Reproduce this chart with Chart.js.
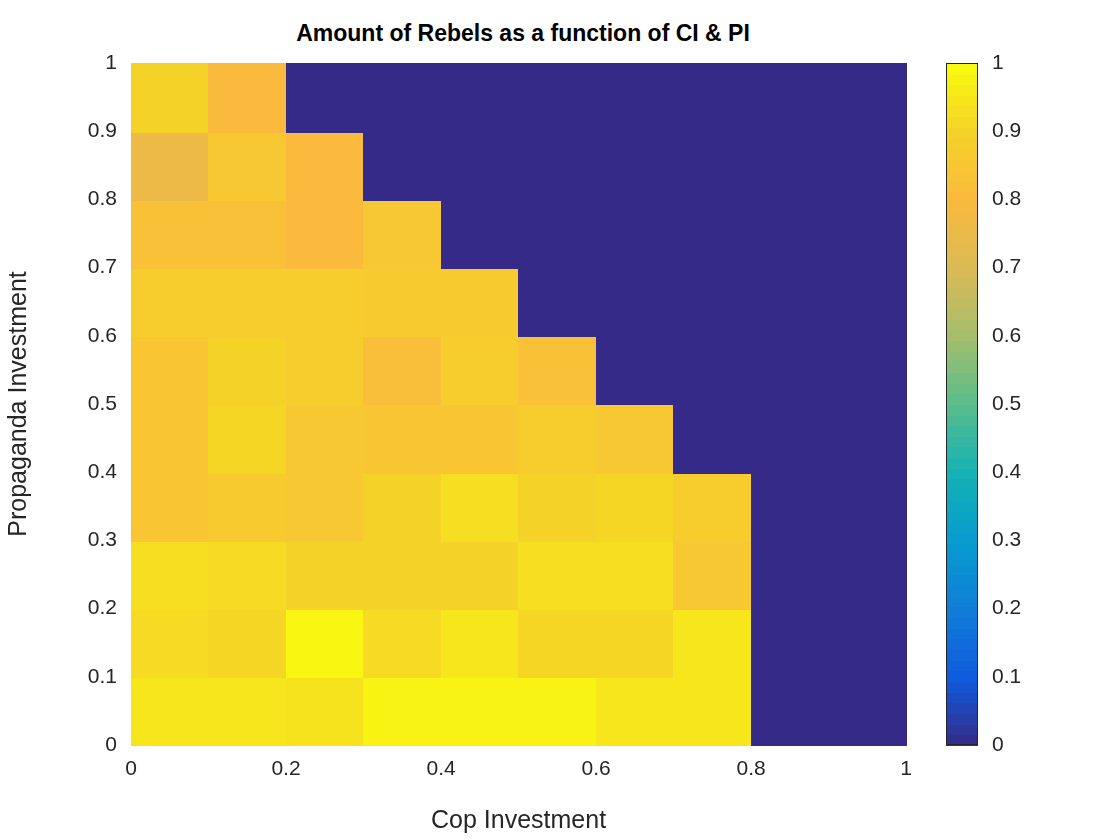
<!DOCTYPE html>
<html><head><meta charset="utf-8">
<script src="https://cdn.jsdelivr.net/npm/chart.js@4/dist/chart.umd.min.js"></script>
<style>body{margin:0;background:#fff;width:1120px;height:840px;overflow:hidden;position:relative;font-family:"Liberation Sans",Arial,sans-serif}
#t{position:absolute;left:0;width:1046px;top:20px;text-align:center;font-weight:bold;font-size:23px}
canvas{position:absolute}</style></head><body>
<div id="t">Amount of Rebels as a function of CI &amp; PI</div>
<canvas id="c" width="916" height="840" style="left:0;top:0"></canvas>
<canvas id="cb" width="110" height="840" style="left:930px;top:0"></canvas>
<script>
const xEdges=[0,0.1,0.2,0.3,0.4,0.5,0.6,0.7,0.8,0.9,1];
const yEdges=[0,0.1,0.2,0.3,0.4,0.5,0.6,0.7,0.8,0.9,1];
const tickLabels=['0','0.1','0.2','0.3','0.4','0.5','0.6','0.7','0.8','0.9','1'];
// rows from bottom (PI 0-0.1) to top
const values=[
[0.95,0.95,0.94,0.98,0.98,0.98,0.95,0.95,0,0],
[0.92,0.91,0.99,0.92,0.95,0.91,0.91,0.95,0,0],
[0.93,0.92,0.9,0.9,0.9,0.93,0.93,0.86,0,0],
[0.85,0.87,0.86,0.9,0.93,0.9,0.91,0.88,0,0],
[0.85,0.91,0.86,0.85,0.85,0.88,0.86,0,0,0],
[0.85,0.9,0.88,0.82,0.88,0.83,0,0,0,0],
[0.88,0.88,0.88,0.87,0.87,0,0,0,0,0],
[0.83,0.83,0.8,0.86,0,0,0,0,0,0],
[0.76,0.86,0.8,0,0,0,0,0,0,0],
[0.9,0.8,0,0,0,0,0,0,0,0]
];
const cmap=[[0,53,42,135],[0.1,15,92,221],[0.2,18,125,216],[0.3,7,156,207],[0.4,21,177,180],[0.5,89,189,140],[0.6,165,190,107],[0.7,218,186,85],[0.8,250,186,62],[0.9,245,210,40],[1,249,251,14]];
function col(v){for(let i=1;i<cmap.length;i++){if(v<=cmap[i][0]){const a=cmap[i-1],b=cmap[i],t=(v-a[0])/(b[0]-a[0]);return `rgb(${[1,2,3].map(k=>Math.round(a[k]+(b[k]-a[k])*t)).join(',')})`;}}return 'rgb(249,251,14)';}
const heat={id:'heat',beforeDatasetsDraw(ch){const c=ch.ctx,x=ch.scales.x,y=ch.scales.y;
for(let r=0;r<10;r++)for(let k=0;k<10;k++){const x0=x.getPixelForValue(xEdges[k]),x1=x.getPixelForValue(xEdges[k+1]);const y0=y.getPixelForValue(yEdges[r+1]),y1=y.getPixelForValue(yEdges[r]);c.fillStyle=col(values[r][k]);c.fillRect(Math.floor(x0),Math.floor(y0),Math.ceil(x1-x0)+1,Math.ceil(y1-y0)+1);}}};
const bar={id:'bar',beforeDatasetsDraw(ch){const c=ch.ctx,y=ch.scales.y,a=ch.chartArea;const n=64;
for(let i=0;i<n;i++){const y0=y.getPixelForValue((i+1)/n),y1=y.getPixelForValue(i/n);c.fillStyle=col((i+0.5)/n);c.fillRect(a.left,Math.floor(y0),a.right-a.left,Math.ceil(y1-y0)+1);}
c.strokeStyle='#262626';c.lineWidth=1;c.strokeRect(a.left+0.5,a.top+0.5,a.right-a.left-1,a.bottom-a.top-1);}};
const tickF=v=>{const i=Math.round(v*10);return Math.abs(v*10-i)<1e-6?tickLabels[i]:'';};
const fnt={family:'"Liberation Sans",Arial,sans-serif',size:21};
new Chart(document.getElementById('c'),{type:'scatter',data:{datasets:[{data:[]}]},
options:{responsive:false,animation:false,devicePixelRatio:1,layout:{padding:{top:63,right:2,left:0,bottom:0}},
plugins:{legend:{display:false},tooltip:{enabled:false}},
scales:{x:{type:'linear',min:0,max:1,afterFit(s){s.height=95;},ticks:{stepSize:0.2,callback:tickF,color:'#262626',font:fnt,padding:4,maxRotation:0},grid:{display:false},border:{color:'#262626'},
title:{display:true,text:'Cop Investment',color:'#262626',font:{...fnt,size:25},padding:{top:8}}},
y:{type:'linear',min:0,max:1,afterFit(s){s.width=131;},ticks:{stepSize:0.1,callback:tickF,color:'#262626',font:fnt,padding:6},grid:{display:false},border:{color:'#262626'},
title:{display:true,text:'Propaganda Investment',color:'#262626',font:{...fnt,size:25},padding:{bottom:4}}}}},
plugins:[heat]});
new Chart(document.getElementById('cb'),{type:'scatter',data:{datasets:[{data:[]}]},
options:{responsive:false,animation:false,devicePixelRatio:1,layout:{padding:{top:63,left:16,right:0,bottom:95}},
plugins:{legend:{display:false},tooltip:{enabled:false}},
scales:{x:{display:false,min:0,max:1},
y:{position:'right',type:'linear',min:0,max:1,afterFit(s){s.width=62;},ticks:{stepSize:0.1,callback:tickF,color:'#262626',font:fnt,padding:6},grid:{display:false},border:{display:false}}}},
plugins:[bar]});
</script>
</body></html>
